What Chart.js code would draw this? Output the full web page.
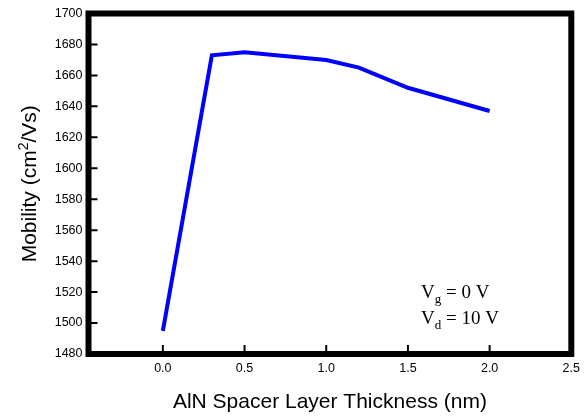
<!DOCTYPE html>
<html><head><meta charset="utf-8">
<script src="https://cdn.jsdelivr.net/npm/chart.js@4.4.0/dist/chart.umd.min.js"></script>
<style>html,body{margin:0;padding:0;background:#fff}#wrap{width:587px;height:416px}</style>
</head><body><div id="wrap"><canvas id="c" width="587" height="416"></canvas></div>
<script>
const thickness = [0.0, 0.3, 0.5, 1.0, 1.2, 1.5, 2.0];
const mobility = [1495, 1673, 1675, 1670, 1665, 1652, 1637];
const xTicks = [0.0, 0.5, 1.0, 1.5, 2.0, 2.5];
const yTicks = [1480,1500,1520,1540,1560,1580,1600,1620,1640,1660,1680,1700];
const yTitleParts = ["Mobility (cm", "2", "/Vs)"];
const annotation = [["V","g"," = 0 V"],["V","d"," = 10 V"]];
const SANS = '"Liberation Sans", Arial, Helvetica, sans-serif';
const SERIF = '"Liberation Serif", "Times New Roman", serif';

const framePlugin = {
  id: 'frame',
  afterDraw(chart) {
    const {ctx, chartArea: a, scales} = chart;
    ctx.save();
    ctx.strokeStyle = '#000';
    // inward ticks
    ctx.lineWidth = 2;
    ctx.beginPath();
    yTicks.forEach(v => { const y = scales.y.getPixelForValue(v); ctx.moveTo(a.left, y); ctx.lineTo(a.left + 9, y); });
    xTicks.forEach(v => { const x = scales.x.getPixelForValue(v); ctx.moveTo(x, a.bottom); ctx.lineTo(x, a.bottom - 9); });
    ctx.stroke();
    ctx.lineWidth = 6;
    ctx.strokeRect(a.left, a.top, a.right - a.left, a.bottom - a.top);
    // y title with superscript
    ctx.fillStyle = '#000';
    ctx.textBaseline = 'alphabetic';
    ctx.translate(36, (a.top + a.bottom) / 2);
    ctx.rotate(-Math.PI / 2);
    const big = '21px ' + SANS, small = '14px ' + SANS;
    ctx.font = big; const w0 = ctx.measureText(yTitleParts[0]).width, w2 = ctx.measureText(yTitleParts[2]).width;
    ctx.font = small; const w1 = ctx.measureText(yTitleParts[1]).width;
    let x = -(w0 + w1 + w2) / 2;
    ctx.font = big; ctx.fillText(yTitleParts[0], x, 0); x += w0;
    ctx.font = small; ctx.fillText(yTitleParts[1], x, -8); x += w1;
    ctx.font = big; ctx.fillText(yTitleParts[2], x, 0);
    ctx.setTransform(1, 0, 0, 1, 0, 0);
    // annotation
    const x0 = scales.x.getPixelForValue(1.58);
    let y0 = scales.y.getPixelForValue(1516);
    annotation.forEach(line => {
      let xx = x0;
      ctx.font = '19px ' + SERIF;
      ctx.fillText(line[0], xx, y0); xx += ctx.measureText(line[0]).width;
      ctx.font = '13px ' + SERIF;
      ctx.fillText(line[1], xx, y0 + 5); xx += ctx.measureText(line[1]).width;
      ctx.font = '19px ' + SERIF;
      ctx.fillText(line[2], xx, y0);
      y0 += 26;
    });
    ctx.restore();
  }
};

new Chart(document.getElementById('c'), {
  type: 'line',
  data: { datasets: [{ data: thickness.map((t,i)=>({x:t,y:mobility[i]})), borderColor:'#0000ff', borderWidth:4, pointRadius:0, tension:0, fill:false }] },
  options: {
    responsive:false, animation:false,
    layout:{ padding:{ top:13, right:15, left:0, bottom:0 } },
    plugins:{ legend:{display:false}, tooltip:{enabled:false} },
    scales:{
      x:{ type:'linear', min:-0.455, max:2.5,
        afterBuildTicks(s){ s.ticks = xTicks.map(v=>({value:v})); },
        afterFit(s){ s.height = 62; },
        grid:{display:false, drawTicks:false, tickLength:0}, border:{display:false},
        ticks:{ color:'#000', font:{family:SANS, size:12.5}, padding:7, maxRotation:0, callback:v=>v.toFixed(1) },
        title:{ display:true, text:'AlN Spacer Layer Thickness (nm)', color:'#000', font:{family:SANS, size:21}, padding:{top:0,bottom:1} }
      },
      y:{ type:'linear', min:1480, max:1700,
        afterBuildTicks(s){ s.ticks = yTicks.map(v=>({value:v})); },
        afterFit(s){ s.width = 88.5; },
        grid:{display:false, drawTicks:false, tickLength:0}, border:{display:false},
        ticks:{ color:'#000', font:{family:SANS, size:12.5}, padding:6, callback:v=>String(v) },
        title:{ display:false }
      }
    }
  },
  plugins:[framePlugin]
});
</script></body></html>
